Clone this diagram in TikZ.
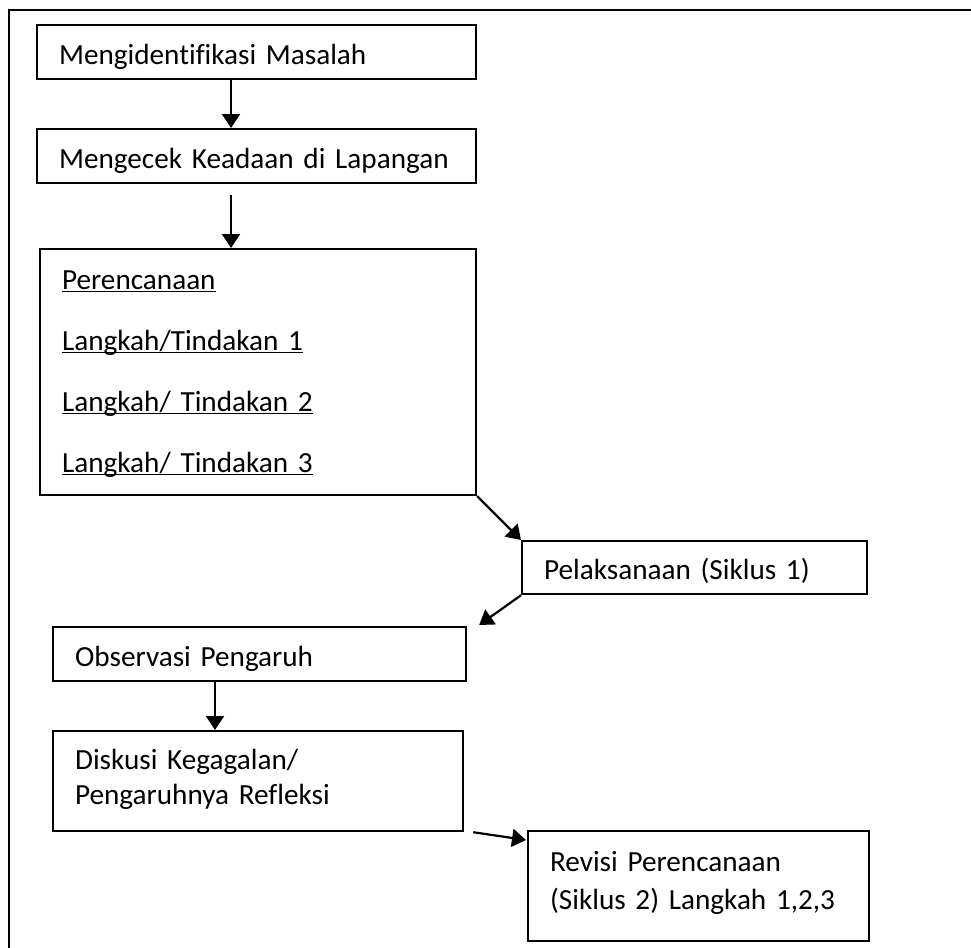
\documentclass[tikz,border=0pt]{standalone}
\usepackage{fontspec}
\setmainfont{Carlito}[Ligatures=NoCommon]
\usetikzlibrary{arrows.meta,calc}
\newsavebox\ulsave
\newcommand\ulword[1]{\leavevmode\sbox\ulsave{#1}\rlap{\rule[-1.6pt]{\wd\ulsave}{0.9pt}}\usebox\ulsave}

\begin{document}
\begin{tikzpicture}
  [x=0.5pt,y=-0.5pt,
   box/.style={draw=black,line width=1.1pt,anchor=north west,align=left,
     inner xsep=11pt,inner ysep=0pt,text depth=0pt,text height=12pt,
     font=\fontsize{14.6}{17.5}\selectfont},
   arr/.style={line width=1.1pt,-{Triangle[length=7pt,width=9pt]}}]
  \useasboundingbox (0,0) rectangle (971,948);
  \clip (0,0) rectangle (971,948);
  % outer frame
  \draw[line width=1.1pt] (9,10) rectangle (990,970);

  \node[box,minimum width=219.5pt,minimum height=27pt,text width=197.5pt]
    (ident) at (36,24) {Mengidentifikasi Masalah};
  \node[box,minimum width=219.5pt,minimum height=27pt,text width=197.5pt]
    (cek) at (36,128) {Mengecek Keadaan di Lapangan};
  \node[box,minimum width=218pt,minimum height=123pt,text width=196pt,
    text height=10pt,text depth=93pt,font=\fontsize{14.6}{30.5}\selectfont]
    (plan) at (39,248) {\ulword{Perencanaan}\\
      \ulword{Langkah/Tindakan 1}\\
      \ulword{Langkah/ Tindakan 2}\\
      \ulword{Langkah/ Tindakan 3}};
  \node[box,minimum width=172.5pt,minimum height=26.5pt,text width=150.5pt,
    text height=11.5pt]
    (pelak) at (521,540) {Pelaksanaan (Siklus 1)};
  \node[box,minimum width=206.5pt,minimum height=27pt,text width=184.5pt]
    (obs) at (52,626) {Observasi Pengaruh};
  \node[box,minimum width=205pt,minimum height=50pt,text width=183pt,
    text height=10pt,text depth=22pt]
    (disk) at (52,730) {Diskusi Kegagalan/\\Pengaruhnya Refleksi};
  \node[box,minimum width=170.5pt,minimum height=55pt,text width=148.5pt,
    text height=10pt,text depth=25pt,font=\fontsize{14.6}{19}\selectfont]
    (revisi) at (527,830) {Revisi Perencanaan\\(Siklus 2) Langkah 1,2,3};

  % connectors
  \draw[arr] ($(ident.south west)+(195,0)$) -- ($(cek.north west)+(195,0)$);
  \draw[arr] ($(cek.south west)+(195,11)$) -- ($(plan.north west)+(192,0)$);
  \draw[arr] (plan.south east) -- (pelak.north west);
  \draw[arr] (pelak.south west) -- ($(obs.north east)+(12,-1)$);
  \draw[arr] ($(obs.south west)+(163,0)$) -- ($(disk.north west)+(163,0)$);
  \draw[arr] ($(disk.south east)+(9,0)$) -- ($(revisi.north west)+(-1,10)$);
\end{tikzpicture}
\end{document}
